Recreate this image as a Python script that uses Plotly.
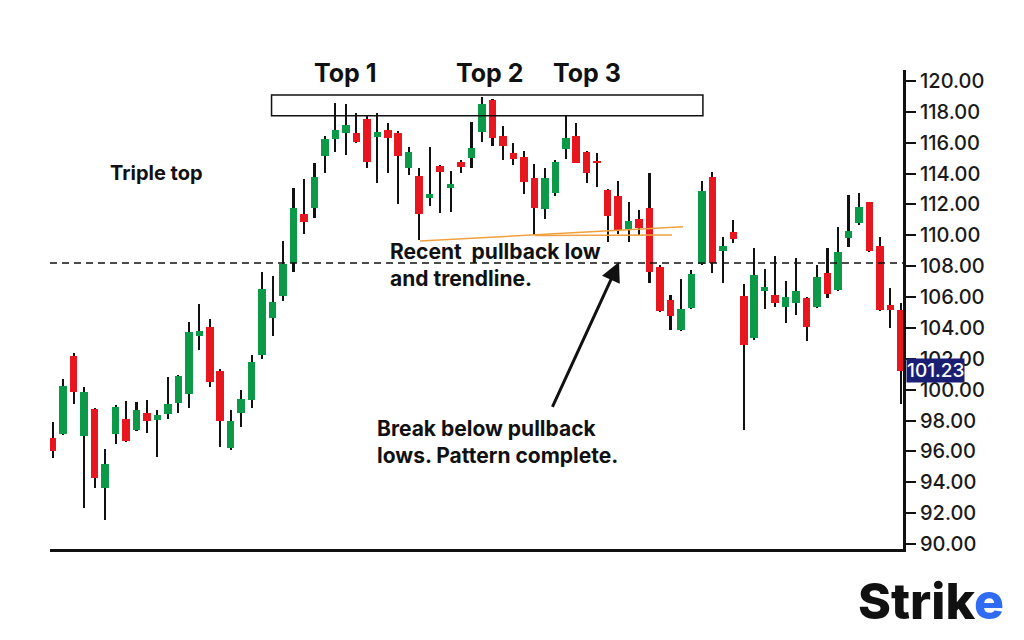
import numpy as np
import plotly.graph_objects as go

# ---- data ----
opens = [96.86, 97.12, 102.18, 97.01, 98.74, 93.62, 97.12, 98.09, 97.38, 98.48,
         98.03, 98.42, 99.13, 99.71, 103.47, 104.08, 101.21, 96.20, 98.50, 99.33,
         102.24, 104.62, 106.07, 108.24, 111.41, 111.75, 115.14, 116.22, 116.61, 116.61,
         117.52, 116.39, 116.82, 116.65, 114.34, 113.84, 112.39, 114.49, 113.08, 114.73,
         114.99, 116.68, 118.77, 116.45, 115.35, 115.06, 113.73, 111.69, 112.76, 115.57,
         116.44, 115.38, 114.82, 112.94, 112.55, 110.41, 111.06, 111.75, 107.93, 105.81,
         103.86, 105.27, 108.14, 113.80, 108.98, 110.23, 106.07, 103.32, 106.41, 106.13,
         105.33, 105.59, 105.92, 105.37, 107.58, 106.45, 109.81, 110.82, 112.14, 109.33,
         105.48, 105.16]
closes = [96.02, 100.25, 99.86, 99.84, 94.29, 95.18, 98.89, 96.67, 98.68, 97.98,
          98.35, 99.07, 100.88, 103.75, 103.82, 100.51, 97.98, 97.98, 99.39, 101.79,
          106.52, 105.66, 108.12, 111.75, 110.86, 113.75, 116.22, 116.82, 117.15, 116.07,
          114.77, 116.71, 116.29, 115.14, 115.42, 111.35, 112.68, 114.10, 113.31, 114.41,
          115.64, 118.49, 116.29, 115.79, 114.93, 113.43, 111.75, 113.73, 114.77, 116.33,
          114.71, 114.02, 114.71, 111.28, 110.36, 110.95, 110.45, 107.60, 105.11, 104.77,
          105.22, 107.47, 112.89, 108.19, 109.33, 109.76, 102.89, 107.43, 106.67, 105.59,
          106.02, 106.41, 104.08, 107.32, 106.20, 108.94, 110.30, 111.85, 109.00, 105.16,
          105.16, 101.23]
highs = [97.90, 100.69, 102.37, 100.19, 98.80, 96.15, 99.00, 99.26, 99.22, 99.33,
         98.68, 100.82, 100.95, 104.40, 105.55, 104.58, 101.33, 98.68, 99.97, 102.24,
         107.60, 107.36, 109.63, 113.07, 113.65, 114.71, 116.44, 118.59, 118.49, 117.91,
         117.73, 117.95, 117.26, 116.75, 115.74, 114.36, 115.74, 114.55, 114.17, 114.88,
         117.32, 118.94, 118.82, 117.08, 116.00, 115.46, 114.62, 114.38, 114.88, 117.80,
         117.26, 115.46, 115.31, 112.98, 113.54, 112.18, 111.64, 114.02, 108.08, 106.13,
         107.15, 107.75, 113.52, 114.12, 109.87, 110.99, 106.82, 109.16, 107.80, 108.66,
         107.04, 108.51, 106.02, 108.08, 109.16, 110.56, 112.61, 112.76, 112.18, 109.87,
         106.57, 105.63]
lows = [95.57, 97.05, 99.07, 92.33, 93.62, 91.55, 96.47, 96.60, 97.35, 97.19,
        95.65, 98.09, 98.50, 98.81, 102.57, 100.19, 96.26, 96.09, 97.60, 98.81,
        101.96, 103.49, 105.76, 107.64, 110.08, 111.12, 114.06, 115.38, 115.20, 115.96,
        114.38, 113.41, 114.06, 112.01, 113.91, 109.70, 111.90, 111.43, 111.53, 114.02,
        114.34, 116.07, 115.79, 114.88, 114.56, 112.68, 110.02, 111.04, 112.55, 114.93,
        114.67, 113.41, 113.15, 109.59, 110.08, 109.59, 110.02, 106.89, 105.05, 103.86,
        103.80, 105.22, 108.10, 107.54, 106.89, 109.48, 97.38, 103.21, 105.20, 105.33,
        104.34, 104.83, 103.17, 105.30, 105.92, 106.40, 109.26, 110.67, 108.94, 105.12,
        103.97, 99.07]

y_ticks = [90, 92, 94, 96, 98, 100, 102, 104, 106, 108, 110, 112, 114, 116, 118, 120]
breakout_level = 108.20
last_price = 101.23
resistance_box = (20.9, 62.1, 117.75, 119.09)
trend_line_1 = ([35.08, 60.2], [109.63, 110.56])
trend_line_2 = ([46.06, 59.15], [109.99, 110.02])

GREEN = "#0c9a48"
RED = "#e8171f"

o = np.array(opens); c = np.array(closes); h = np.array(highs); l = np.array(lows)
x = np.arange(len(o))
up = c >= o
body_base = np.minimum(o, c)
body_h = np.maximum(np.abs(c - o), 0.08)

fig = go.Figure()
# wicks
fig.add_trace(go.Bar(x=x, y=h - l, base=l, width=0.2, marker=dict(color="#111111", line_width=0),
                     showlegend=False, hoverinfo="skip"))
# bodies
fig.add_trace(go.Bar(x=x[up], y=body_h[up], base=body_base[up], width=0.72,
                     marker=dict(color=GREEN, line_width=0), showlegend=False))
fig.add_trace(go.Bar(x=x[~up], y=body_h[~up], base=body_base[~up], width=0.72,
                     marker=dict(color=RED, line_width=0), showlegend=False))
# orange trend lines
for tl in (trend_line_1, trend_line_2):
    fig.add_trace(go.Scatter(x=tl[0], y=tl[1], mode="lines", line=dict(color="#f0a040", width=1.5),
                             showlegend=False, hoverinfo="skip"))

FONT = "Inter, Poppins, 'Open Sans', sans-serif"

fig.update_layout(
    width=1024, height=640,
    margin=dict(l=42, r=129, t=62, b=99),
    paper_bgcolor="white", plot_bgcolor="white",
    barmode="overlay", bargap=0,
    font=dict(family=FONT, color="#1a1a1a"),
    xaxis=dict(range=[-0.26, 81.21], showgrid=False, zeroline=False, showticklabels=False,
               ticks="", showline=True, linecolor="#111111", linewidth=3),
    yaxis=dict(range=[89.68, 120.71], side="right", showgrid=False, zeroline=False,
               tickvals=y_ticks, tickformat=".2f", ticks="outside", ticklen=10, tickwidth=2,
               tickcolor="#111111", showline=True, linecolor="#111111", linewidth=3,
               tickfont=dict(size=20, family=FONT, color="#1a1a1a", weight=500)),
)

fig.add_shape(type="line", xref="paper", x0=0, x1=1, yref="y", y0=breakout_level, y1=breakout_level,
              line=dict(color="#111111", width=1.5, dash="7px,5px"))
fig.add_shape(type="rect", xref="x", yref="y", x0=resistance_box[0], x1=resistance_box[1],
              y0=resistance_box[2], y1=resistance_box[3], line=dict(color="#111111", width=1.5))

bold = lambda s: dict(family=FONT, size=s, color="#111111", weight=700)
for txt, xi in (("Top 1", 27.92), ("Top 2", 41.77), ("Top 3", 51.03)):
    fig.add_annotation(x=xi, y=120.52, text=txt, showarrow=False, font=bold(25),
                       xanchor="center", yanchor="middle")
fig.add_annotation(x=9.93, y=114.04, text="Triple top", showarrow=False, font=bold(20),
                   xanchor="center", yanchor="middle")
fig.add_annotation(x=32.02, y=108.07, text="Recent  pullback low<br>and trendline.", showarrow=False,
                   font=bold(21), xanchor="left", yanchor="middle", align="left")
fig.add_annotation(x=30.78, y=96.64, text="Break below pullback<br>lows. Pattern complete.",
                   showarrow=False, font=bold(21), xanchor="left", yanchor="middle", align="left")
fig.add_annotation(x=54.09, y=108.27, ax=47.66, ay=98.79, axref="x", ayref="y", text="",
                   showarrow=True, arrowhead=2, arrowsize=1.3, arrowwidth=3, arrowcolor="#111111")
fig.add_annotation(xref="paper", x=1, xshift=3, y=last_price, text=f"{last_price:.2f}",
                   showarrow=False, xanchor="left", yanchor="middle", bgcolor="#1b1f74",
                   borderpad=0, font=dict(family=FONT, size=19, color="white", weight=500))
fig.add_annotation(xref="paper", yref="paper", x=1.0, xshift=103, y=-0.108, xanchor="right",
                   yanchor="middle", showarrow=False,
                   text="Strik<span style='color:#2f6cf3'>e</span>",
                   font=dict(family=FONT, size=50, color="#111111", weight=800))

fig.write_html("out.html")
